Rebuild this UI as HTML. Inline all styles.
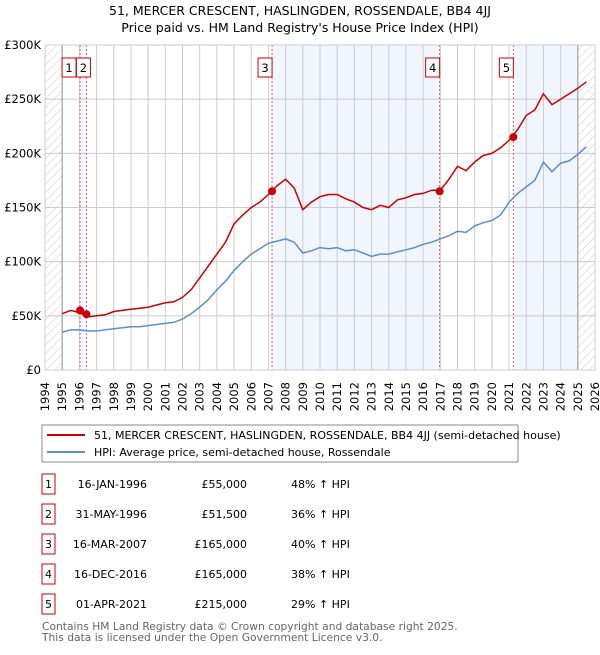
<!DOCTYPE html>
<html><head><meta charset="utf-8"><style>
body{margin:0;background:#fff;width:600px;height:650px;overflow:hidden}
svg text{font-family:"DejaVu Sans","Liberation Sans",sans-serif}
</style></head><body>
<svg id="chart" width="600" height="650" xmlns="http://www.w3.org/2000/svg">
<defs><pattern id="hatch" width="6" height="6" patternUnits="userSpaceOnUse" patternTransform="rotate(45)"><line x1="0" y1="0" x2="0" y2="6" stroke="#ccc" stroke-width="1"/></pattern></defs>
<text x="300" y="15" text-anchor="middle" font-size="12.5">51, MERCER CRESCENT, HASLINGDEN, ROSSENDALE, BB4 4JJ</text>
<text x="300" y="32" text-anchor="middle" font-size="12.5">Price paid vs. HM Land Registry's House Price Index (HPI)</text>
<g id="plot"></g>
<g>
<rect x="42" y="425" width="476" height="37" fill="#fff" stroke="#888"/>
<line x1="47" y1="435" x2="85" y2="435" stroke="#cc0000" stroke-width="2"/>
<text x="94" y="439" font-size="11">51, MERCER CRESCENT, HASLINGDEN, ROSSENDALE, BB4 4JJ (semi-detached house)</text>
<line x1="47" y1="452" x2="85" y2="452" stroke="#5b8fd0" stroke-width="2"/>
<text x="94" y="456" font-size="11">HPI: Average price, semi-detached house, Rossendale</text>
</g>
<g id="table" font-size="11"></g>
<text x="42" y="630" font-size="10.7" fill="#666">Contains HM Land Registry data © Crown copyright and database right 2025.</text>
<text x="42" y="641" font-size="10.7" fill="#666">This data is licensed under the Open Government Licence v3.0.</text>
</svg>
<script>
const years = [1994,1995,1996,1997,1998,1999,2000,2001,2002,2003,2004,2005,2006,2007,2008,2009,2010,2011,2012,2013,2014,2015,2016,2017,2018,2019,2020,2021,2022,2023,2024,2025,2026];
const yTicks = [0,50000,100000,150000,200000,250000,300000];
const yTickLabels = ["£0","£50K","£100K","£150K","£200K","£250K","£300K"];
const seriesStart = 1995;
const hpiK = [35,37,37,36,36,37,38,39,40,40,41,42,43,44,47,52,58,65,74,82,92,100,107,112,117,119,121,118,108,110,113,112,113,110,111,108,105,107,107,109,111,113,116,118,121,124,128,127,133,136,138,143,155,163,169,175,192,183,191,193,199,206];
const propK = [52,55,53,49,50,51,54,55,56,57,58,60,62,63,67,74,85,96,107,118,135,143,150,155,162,170,176,168,148,155,160,162,162,158,155,150,148,152,150,157,159,162,163,166,166,176,188,184,192,198,200,205,212,222,235,240,255,245,250,255,260,266];
const saleNums = ["1","2","3","4","5"];
const saleTimes = [1996.04,1996.41,2007.21,2016.96,2021.25];
const salePrices = [55000,51500,165000,165000,215000];
const saleDates = ["16-JAN-1996","31-MAY-1996","16-MAR-2007","16-DEC-2016","01-APR-2021"];
const saleLabels = ["£55,000","£51,500","£165,000","£165,000","£215,000"];
const saleHpi = ["48% ↑ HPI","36% ↑ HPI","40% ↑ HPI","38% ↑ HPI","29% ↑ HPI"];

const NS="http://www.w3.org/2000/svg";
const X0=45,X1=595,Y0=370,Y1=45;
const x=t=>X0+(t-1994)*(X1-X0)/32;
const y=v=>Y0-v*(Y0-Y1)/300000;
function mk(tag,attrs,parent){const e=document.createElementNS(NS,tag);for(const k in attrs)e.setAttribute(k,attrs[k]);parent.appendChild(e);return e;}
const plot=document.getElementById('plot');
let e;
e=mk('rect',{x:X0,y:Y1,width:X1-X0,height:Y0-Y1,fill:'#fff'},plot);


const spans=[[saleTimes[0],saleTimes[1]],[saleTimes[2],saleTimes[3]],[saleTimes[4],2025.0]];
spans.forEach(s=>{e=mk('rect',{x:x(s[0]),y:Y1,width:x(s[1])-x(s[0]),height:Y0-Y1,fill:'#eef2fc',opacity:0.8},plot);

});
e=mk('rect',{x:X0,y:Y1,width:x(1995)-X0,height:Y0-Y1,fill:'url(#hatch)'},plot);


e=mk('rect',{x:x(2025),y:Y1,width:X1-x(2025),height:Y0-Y1,fill:'url(#hatch)'},plot);


years.forEach(yr=>{e=mk('line',{x1:x(yr),x2:x(yr),y1:Y1,y2:Y0,stroke:'#ccc','stroke-width':1},plot);


const lx=x(yr)+4;
e=mk('text',{x:lx,y:382,'text-anchor':'end','font-size':11.5,transform:`rotate(-90 ${lx} 382)`},plot);e.textContent=yr;

});
yTicks.forEach((v,i)=>{e=mk('line',{x1:X0,x2:X1,y1:y(v),y2:y(v),stroke:'#ccc','stroke-width':1},plot);


e=mk('text',{x:X0-4,y:y(v)+4,'text-anchor':'end','font-size':11.5},plot);e.textContent=yTickLabels[i];

});
[1995,2025].forEach(t=>{e=mk('line',{x1:x(t),x2:x(t),y1:Y1,y2:Y0,stroke:'#999','stroke-width':1},plot);

});
saleTimes.forEach(t=>{e=mk('line',{x1:x(t),x2:x(t),y1:Y1,y2:Y0,stroke:'#e06060','stroke-width':1,'stroke-dasharray':'2,2'},plot);

});
function path(arr){return arr.map((v,i)=>(i?'L':'M')+x(seriesStart+i*0.5).toFixed(1)+','+y(v*1000).toFixed(1)).join('');}
e=mk('path',{d:path(hpiK),fill:'none',stroke:'#5b8fd0','stroke-width':1.5},plot);


e=mk('path',{d:path(propK),fill:'none',stroke:'#cc0000','stroke-width':1.5},plot);


saleTimes.forEach((t,i)=>{e=mk('circle',{cx:x(t),cy:y(salePrices[i]),r:4,fill:'#cc0000'},plot);

});
const boxOff=[-4,4,0,0,0];
saleTimes.forEach((t,i)=>{const cx=x(t)-7+boxOff[i];
e=mk('rect',{x:cx-7,y:58,width:14,height:19,fill:'#fff',stroke:'#cc0000'},plot);


e=mk('text',{x:cx,y:72,'text-anchor':'middle','font-size':11.5},plot);e.textContent=saleNums[i];

});
e=mk('rect',{x:X0,y:Y1,width:X1-X0,height:Y0-Y1,fill:'none',stroke:'#ccc'},plot);


const table=document.getElementById('table');
saleNums.forEach((n,i)=>{const cy=484+i*30;
e=mk('rect',{x:42,y:cy-10,width:13,height:20,fill:'#fff',stroke:'#cc0000'},table);


e=mk('text',{x:48.5,y:cy+4,'text-anchor':'middle'},table);e.textContent=n;


e=mk('text',{x:147,y:cy+4,'text-anchor':'end'},table);e.textContent=saleDates[i];


e=mk('text',{x:247,y:cy+4,'text-anchor':'end'},table);e.textContent=saleLabels[i];


e=mk('text',{x:291,y:cy+4},table);e.textContent=saleHpi[i];

});
</script>
</body></html>
